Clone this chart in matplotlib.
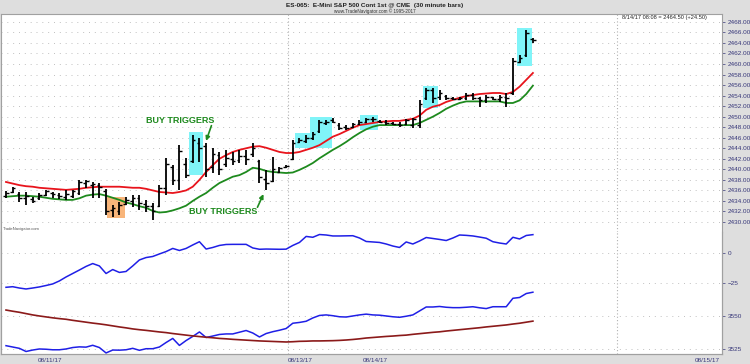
import matplotlib
matplotlib.use("Agg")
import matplotlib.pyplot as plt
from matplotlib.patches import Rectangle
import numpy as np

plt.rcParams['font.family'] = ['Liberation Sans', 'DejaVu Sans']

# ---------------- data ----------------
high = [2435.9, 2436.7, 2435.7, 2435.7, 2434.8, 2435.5, 2436.1, 2435.7, 2435.5, 2436.1,
        2436.1, 2438.0, 2438.0, 2437.6, 2437.4, 2436.3, 2433.2, 2433.8, 2434.8, 2435.1,
        2435.1, 2434.2, 2433.6, 2437.0, 2442.2, 2440.8, 2444.6, 2442.2, 2446.5, 2446.0,
        2445.0, 2444.1, 2443.3, 2443.7, 2443.3, 2443.7, 2443.7, 2445.0, 2441.8, 2439.9,
        2442.4, 2440.5, 2440.8, 2445.6, 2446.0, 2446.5, 2447.1, 2449.4, 2449.4, 2449.8,
        2448.8, 2448.4, 2448.8, 2449.4, 2449.8, 2450.0, 2449.4, 2449.4, 2449.0, 2449.0,
        2449.6, 2449.8, 2453.2, 2455.5, 2455.5, 2455.1, 2454.1, 2453.8, 2453.8, 2454.5,
        2454.5, 2453.8, 2454.1, 2453.8, 2454.1, 2454.5, 2461.2, 2461.7, 2466.5, 2465.0]
low = [2434.6, 2435.5, 2433.8, 2433.2, 2433.6, 2434.2, 2434.9, 2434.6, 2434.4, 2434.2,
       2434.6, 2435.1, 2436.5, 2434.6, 2434.6, 2431.3, 2431.0, 2431.3, 2433.2, 2432.9,
       2432.3, 2431.9, 2430.4, 2432.9, 2435.1, 2437.0, 2436.1, 2438.4, 2441.2, 2441.4,
       2438.6, 2439.3, 2438.9, 2440.5, 2440.8, 2441.2, 2440.8, 2442.4, 2437.4, 2436.1,
       2437.6, 2439.3, 2440.3, 2441.8, 2445.0, 2445.0, 2445.6, 2446.9, 2448.4, 2448.8,
       2447.5, 2447.5, 2447.9, 2448.4, 2448.8, 2449.0, 2448.8, 2448.4, 2448.4, 2448.1,
       2448.4, 2447.9, 2447.9, 2453.2, 2452.6, 2453.2, 2453.2, 2453.2, 2453.2, 2453.2,
       2453.2, 2451.9, 2452.6, 2453.2, 2452.8, 2451.9, 2454.1, 2460.2, 2461.4, 2464.0]
opens = [2435.0, 2435.7, 2435.4, 2434.5, 2434.4, 2434.6, 2435.2, 2435.5, 2435.2, 2434.8,
         2435.0, 2435.5, 2437.5, 2437.0, 2437.0, 2435.8, 2432.2, 2432.0, 2433.4, 2434.0,
         2434.5, 2433.5, 2433.0, 2433.0, 2436.5, 2440.5, 2438.0, 2441.0, 2441.5, 2445.0,
         2444.5, 2440.5, 2442.8, 2441.0, 2442.0, 2441.8, 2442.5, 2443.0, 2441.5, 2438.2,
         2437.8, 2439.5, 2440.4, 2442.0, 2445.2, 2445.3, 2446.0, 2447.2, 2448.8, 2449.4,
         2448.5, 2448.0, 2448.0, 2448.6, 2449.0, 2449.5, 2449.2, 2449.0, 2448.8, 2448.6,
         2448.6, 2448.5, 2448.5, 2453.5, 2455.0, 2453.8, 2454.0, 2453.6, 2453.4, 2453.6,
         2454.2, 2453.5, 2453.2, 2453.7, 2453.4, 2453.8, 2454.5, 2460.4, 2461.8, 2464.8]
closes = [2435.6, 2436.4, 2434.6, 2435.0, 2434.0, 2435.2, 2435.8, 2435.4, 2435.0, 2435.3,
          2435.8, 2437.6, 2437.8, 2437.2, 2436.7, 2432.0, 2432.6, 2433.2, 2434.2, 2434.5,
          2433.6, 2433.0, 2432.0, 2436.5, 2441.0, 2438.0, 2443.5, 2439.0, 2445.5, 2444.0,
          2440.0, 2443.0, 2440.0, 2442.2, 2441.5, 2442.5, 2442.0, 2444.0, 2438.5, 2437.5,
          2440.0, 2440.2, 2440.7, 2445.0, 2445.6, 2446.0, 2446.8, 2449.0, 2449.0, 2449.0,
          2447.8, 2447.8, 2448.6, 2449.0, 2449.5, 2449.6, 2449.0, 2448.8, 2448.6, 2448.5,
          2449.3, 2449.5, 2452.5, 2455.0, 2453.5, 2454.5, 2453.5, 2453.4, 2453.6, 2454.2,
          2453.6, 2453.2, 2453.8, 2453.4, 2453.8, 2453.6, 2460.5, 2461.2, 2465.8, 2464.5]

red_line = [2437.6, 2437.3, 2437.0, 2436.8, 2436.7, 2436.5, 2436.4, 2436.3, 2436.2, 2436.1,
            2436.2, 2436.3, 2436.5, 2436.6, 2436.7, 2436.7, 2436.7, 2436.7, 2436.6, 2436.5,
            2436.5, 2436.3, 2436.0, 2435.7, 2435.6, 2435.5, 2435.7, 2436.0, 2436.7, 2438.0,
            2439.5, 2440.8, 2442.0, 2442.7, 2443.3, 2443.7, 2444.0, 2444.3, 2444.4, 2444.1,
            2443.7, 2443.3, 2443.1, 2443.1, 2443.3, 2443.7, 2444.1, 2444.6, 2445.4, 2446.2,
            2446.7, 2447.3, 2447.9, 2448.4, 2448.6, 2448.8, 2449.0, 2449.1, 2449.2, 2449.2,
            2449.4, 2449.6, 2450.2, 2451.3, 2451.9, 2452.2, 2452.8, 2453.2, 2453.6, 2453.9,
            2454.1, 2454.3, 2454.4, 2454.5, 2454.5, 2454.3, 2454.7, 2455.7, 2457.0, 2458.3]
green_line = [2434.8, 2434.9, 2435.0, 2435.0, 2434.9, 2434.8, 2434.6, 2434.4, 2434.3, 2434.2,
              2434.2, 2434.5, 2435.0, 2435.2, 2435.3, 2435.0, 2434.6, 2434.2, 2433.7, 2433.4,
              2433.0, 2432.7, 2432.1, 2431.8, 2431.9, 2432.2, 2432.6, 2433.1, 2434.0, 2434.8,
              2435.5, 2436.5, 2437.4, 2438.0, 2438.6, 2438.9, 2439.5, 2440.3, 2440.1, 2439.7,
              2439.5, 2439.4, 2439.3, 2439.4, 2439.9, 2440.5, 2441.2, 2442.1, 2442.9, 2443.7,
              2444.4, 2445.2, 2446.1, 2446.9, 2447.6, 2448.1, 2448.4, 2448.4, 2448.4, 2448.4,
              2448.4, 2448.4, 2448.8, 2449.4, 2450.0, 2450.7, 2451.5, 2452.1, 2452.6, 2452.9,
              2452.9, 2452.9, 2452.9, 2452.9, 2452.9, 2452.6, 2452.6, 2453.1, 2454.3, 2455.9]

osc_line = [-28.6, -28.1, -29.2, -30.0, -29.2, -28.3, -27.1, -25.8, -23.3, -20.0,
            -17.1, -14.2, -11.2, -8.8, -10.8, -17.1, -13.8, -16.2, -15.4, -10.8,
            -5.8, -3.8, -2.9, -0.8, 1.2, 3.8, 2.1, 3.8, 6.7, 9.4,
            3.3, 4.6, 6.3, 7.1, 7.2, 7.2, 7.2, 4.2, 3.1, 3.3,
            3.2, 3.1, 3.2, 6.3, 8.8, 13.8, 13.1, 15.4, 15.0, 14.2,
            14.2, 14.3, 14.4, 12.5, 9.6, 9.2, 8.8, 7.5, 5.8, 4.6,
            9.2, 7.5, 10.0, 12.9, 12.1, 11.3, 10.4, 12.5, 15.0, 14.7,
            14.2, 13.3, 12.3, 9.4, 8.3, 7.5, 13.1, 11.7, 14.6, 15.3]
lower_blue = [3527.5, 3526.5, 3525.5, 3523.1, 3524.2, 3525.0, 3524.8, 3524.4, 3524.4, 3525.0,
              3526.1, 3526.6, 3526.4, 3527.8, 3526.1, 3522.0, 3524.2, 3524.1, 3524.4, 3525.5,
              3524.0, 3525.2, 3525.2, 3526.5, 3529.9, 3533.0, 3527.7, 3531.4, 3534.5, 3537.9,
              3533.7, 3534.8, 3536.0, 3536.4, 3536.4, 3537.7, 3539.0, 3537.1, 3534.1, 3536.7,
              3538.1, 3539.2, 3540.5, 3544.5, 3545.1, 3546.0, 3548.5, 3550.4, 3550.8, 3550.2,
              3549.4, 3549.2, 3550.0, 3550.8, 3551.4, 3550.8, 3550.6, 3550.0, 3549.4, 3549.0,
              3549.8, 3550.8, 3553.8, 3556.8, 3556.8, 3557.2, 3556.6, 3556.3, 3556.3, 3556.6,
              3557.0, 3556.2, 3555.6, 3557.0, 3557.0, 3557.0, 3563.4, 3564.0, 3567.0, 3568.0]
brown_line = [3554.5, 3553.6, 3552.8, 3551.8, 3550.8, 3550.0, 3549.3, 3548.6, 3548.0, 3547.5,
              3546.7, 3546.0, 3545.3, 3544.6, 3544.0, 3543.3, 3542.5, 3541.7, 3541.0, 3540.2,
              3539.6, 3539.1, 3538.5, 3537.9, 3537.4, 3536.7, 3536.1, 3535.5, 3534.9, 3534.4,
              3533.9, 3533.5, 3533.0, 3532.7, 3532.3, 3532.0, 3531.7, 3531.4, 3531.1, 3530.9,
              3530.7, 3530.5, 3530.3, 3530.5, 3530.8, 3530.9, 3531.1, 3531.1, 3531.2, 3531.3,
              3531.5, 3531.8, 3532.2, 3532.7, 3533.3, 3533.7, 3534.1, 3534.5, 3534.8, 3535.2,
              3535.5, 3536.1, 3536.6, 3537.1, 3537.6, 3538.0, 3538.6, 3539.1, 3539.6, 3540.1,
              3540.6, 3541.1, 3541.7, 3542.2, 3542.7, 3543.2, 3543.9, 3544.5, 3545.3, 3546.1]

# highlight boxes: (bar start, bar end, price low, price high)
cyan_boxes = [(27.5, 29.6, 2438.9, 2447.1),
              (43.3, 45.6, 2444.1, 2446.9),
              (45.6, 48.9, 2444.1, 2450.0),
              (53.1, 55.8, 2447.5, 2450.3),
              (62.5, 64.8, 2451.7, 2455.9),
              (76.6, 78.9, 2459.7, 2466.9)]
orange_boxes = [(15.1, 17.8, 2430.8, 2434.8)]

date_pos = [4.8, 42.3, 53.5, 103.3]
date_labels = ["08/11/17", "08/13/17", "08/14/17", "08/15/17"]
price_ticks = list(range(2430, 2470, 2))

title = "ES-065:  E-Mini S&P 500 Cont 1st @ CME  (30 minute bars)"
subtitle = "www.TradeNavigator.com \u00a9 1995-2017"
last_info = "8/14/17 08:08 = 2464.50 (+24.50)"

# ---------------- figure ----------------
W, H = 750, 364
fig = plt.figure(figsize=(W / 100, H / 100), dpi=100)
fig.patch.set_facecolor("#dedede")

def box(x0, y0, x1, y1):
    return [x0 / W, 1 - y1 / H, (x1 - x0) / W, (y1 - y0) / H]

ax1 = fig.add_axes(box(1, 14, 722, 232))
ax2 = fig.add_axes(box(1, 232, 722, 354), sharex=ax1)
ax3 = ax2.twinx()

xmin, xmax = -0.75, 107.35
tick_color = "#38387a"
grid_kw = dict(color="#c0c0c0", linestyle=(0, (1, 5)), linewidth=0.7, zorder=0)

# main panel
x = np.arange(len(high))
ax1.set_facecolor("white")
ax1.set_xlim(xmin, xmax)
ax1.set_ylim(2428.1, 2469.5)
for p in price_ticks:
    ax1.axhline(p, **grid_kw)
for (a, b, lo, hi) in cyan_boxes:
    ax1.add_patch(Rectangle((a, lo), b - a, hi - lo, facecolor="#80f4f8", edgecolor="none", zorder=1))
for (a, b, lo, hi) in orange_boxes:
    ax1.add_patch(Rectangle((a, lo), b - a, hi - lo, facecolor="#f8b57a", edgecolor="none", zorder=1))

ax1.plot(x, red_line, color="#e8141c", lw=1.3, zorder=3)
ax1.plot(x, green_line, color="#1e8a1e", lw=1.3, zorder=3)
ax1.vlines(x, low, high, color="black", lw=1.3, zorder=4)
ax1.hlines(opens, x - 0.4, x, color="black", lw=1.0, zorder=4)
ax1.hlines(closes, x, x + 0.4, color="black", lw=1.0, zorder=4)

ax1.yaxis.tick_right()
ax1.set_yticks(price_ticks)
ax1.set_yticklabels([f"{p:.2f}" for p in price_ticks])
ax1.tick_params(axis="y", labelsize=4.6, colors=tick_color, length=2, width=0.5, pad=2)
ax1.tick_params(axis="x", bottom=False, labelbottom=False)
for s in ax1.spines.values():
    s.set_color("#a0a0a0"); s.set_linewidth(0.8)
ax1.spines["bottom"].set_visible(False)

green_txt = "#1e8a1e"
arrow_kw = dict(arrowstyle="-|>", color=green_txt, lw=1.2, mutation_scale=6, shrinkA=0, shrinkB=0)
ax1.text(26.1, 2449.2, "BUY TRIGGERS", color=green_txt, fontsize=6.5, fontweight="bold",
         ha="center", va="center", zorder=5)
ax1.annotate("", xy=(30.0, 2445.4), xytext=(30.8, 2448.3), arrowprops=arrow_kw, zorder=5)
ax1.text(32.5, 2431.9, "BUY TRIGGERS", color=green_txt, fontsize=6.5, fontweight="bold",
         ha="center", va="center", zorder=5)
ax1.annotate("", xy=(38.6, 2435.3), xytext=(37.7, 2432.8), arrowprops=arrow_kw, zorder=5)

# lower panel
ax2.set_facecolor("white")
ax2.set_ylim(-84.2, 17.5)
ax3.set_ylim(3521.2, 3613.6)
for v in [0, -25]:
    ax2.axhline(v, **grid_kw)
for v in [3550, 3525]:
    ax3.axhline(v, **grid_kw)
ax2.plot(x, osc_line, color="#1f1fe6", lw=1.1, zorder=3)
ax3.plot(x, lower_blue, color="#1f1fe6", lw=1.1, zorder=3)
ax3.plot(x, brown_line, color="#8b1a1a", lw=1.2, zorder=3)

ax2.yaxis.tick_right()
ax2.set_yticks([0, -25])
ax2.tick_params(axis="y", labelsize=4.6, colors=tick_color, length=2, width=0.5, pad=2)
ax3.set_yticks([3550, 3525])
ax3.tick_params(axis="y", labelsize=4.6, colors=tick_color, length=2, width=0.5, pad=2)
ax2.set_xticks(date_pos)
ax2.set_xticklabels(date_labels)
ax2.tick_params(axis="x", labelsize=4.6, colors=tick_color, length=0, pad=2.8)
for lab in ax2.get_xticklabels():
    lab.set_horizontalalignment("left")
for a in (ax2, ax3):
    for s in a.spines.values():
        s.set_color("#a0a0a0"); s.set_linewidth(0.8)
    a.spines["top"].set_visible(False)

# vertical session / cursor lines
for a in (ax1, ax2):
    for v in [42.3, 91.6]:
        a.axvline(v, color="#b0b0b0", linestyle=(0, (1, 2)), lw=0.8, zorder=0)

# texts
fig.text(375 / W, 1 - 5 / H, title, ha="center", va="center", fontsize=4.6, fontweight="bold", color="#222222")
fig.text(375 / W, 1 - 11 / H, subtitle, ha="center", va="center", fontsize=3.3, color="#333333")
fig.text(622 / W, 1 - 17.5 / H, last_info, ha="left", va="center", fontsize=4.1, color="#222222")
fig.text(3 / W, 1 - 229 / H, "TradeNavigator.com", ha="left", va="center", fontsize=3.0, color="#555555")

fig.savefig("out.png", dpi=100, facecolor=fig.get_facecolor())
